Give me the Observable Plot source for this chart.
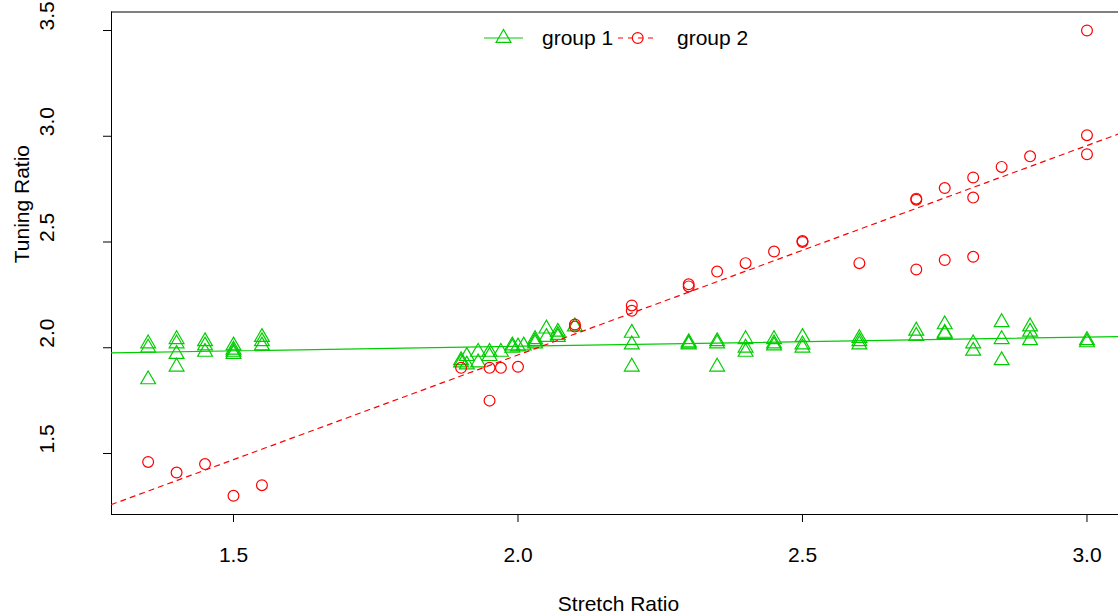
<!DOCTYPE html>
<html>
<head>
<meta charset="utf-8">
<script src="https://cdn.jsdelivr.net/npm/d3@7"></script>
<script src="https://cdn.jsdelivr.net/npm/@observablehq/plot@0.6"></script>
<style>
  html, body { margin: 0; padding: 0; background: #fff; overflow: hidden; }
  #wrap { position: relative; width: 1118px; height: 615px; font-family: "Liberation Sans", Arial, Helvetica, sans-serif; }
  #legend { position: absolute; left: 480px; top: 26px; }
</style>
</head>
<body>
<div id="wrap"><div id="chart"></div><div id="legend"></div></div>
<script>
// ---- data ----
const group1Stretch = [
  1.35, 1.35, 1.35,
  1.40, 1.40, 1.40, 1.40,
  1.45, 1.45, 1.45,
  1.50, 1.50, 1.50, 1.50,
  1.55, 1.55, 1.55,
  1.90, 1.90, 1.91, 1.91, 1.93, 1.93, 1.95, 1.95, 1.97, 1.99, 1.99, 2.00, 2.01,
  2.03, 2.03, 2.03, 2.05, 2.05, 2.07, 2.07, 2.07, 2.10,
  2.20, 2.20, 2.20,
  2.30, 2.30, 2.30,
  2.35, 2.35, 2.35,
  2.40, 2.40, 2.40,
  2.45, 2.45, 2.45,
  2.50, 2.50, 2.50,
  2.60, 2.60, 2.60,
  2.70, 2.70,
  2.75, 2.75, 2.75,
  2.80, 2.80,
  2.85, 2.85, 2.85,
  2.90, 2.90, 2.90,
  3.00, 3.00
];
const group1Tuning = [
  2.02, 2.00, 1.85,
  2.04, 2.02, 1.97, 1.91,
  2.03, 2.01, 1.98,
  2.01, 1.99, 1.98, 1.97,
  2.05, 2.03, 2.01,
  1.94, 1.93, 1.96, 1.92, 1.98, 1.93, 1.98, 1.96, 1.98, 2.00, 2.01, 2.005, 2.01,
  2.04, 2.03, 2.02, 2.09, 2.05, 2.075, 2.05, 2.06, 2.10,
  2.07, 2.015, 1.91,
  2.025, 2.02, 2.015,
  2.03, 2.02, 1.91,
  2.04, 2.00, 1.98,
  2.04, 2.02, 2.01,
  2.05, 2.015, 2.00,
  2.045, 2.03, 2.015,
  2.08, 2.055,
  2.11, 2.07, 2.065,
  2.02, 1.985,
  2.12, 2.04, 1.94,
  2.10, 2.075, 2.035,
  2.035, 2.025
];
const group2Stretch = [
  1.35, 1.40, 1.45, 1.50, 1.55,
  1.90, 1.95, 1.95, 1.97, 2.00,
  2.10, 2.10, 2.20, 2.20, 2.30, 2.30, 2.35, 2.40, 2.45, 2.50, 2.50,
  2.60, 2.70, 2.70, 2.70, 2.75, 2.75, 2.80, 2.80, 2.80, 2.85, 2.90,
  3.00, 3.00, 3.00
];
const group2Tuning = [
  1.46, 1.41, 1.45, 1.30, 1.35,
  1.905, 1.905, 1.75, 1.905, 1.91,
  2.11, 2.10, 2.20, 2.175, 2.30, 2.29, 2.36, 2.40, 2.455, 2.505, 2.50,
  2.40, 2.70, 2.705, 2.37, 2.755, 2.415, 2.805, 2.71, 2.43, 2.855, 2.905,
  3.50, 3.005, 2.915
];
const fit1 = {intercept: 1.920, slope: 0.0435};
const fit2 = {intercept: -0.014, slope: 0.990};
const xTicks = [1.5, 2.0, 2.5, 3.0];
const yTicks = [1.5, 2.0, 2.5, 3.0, 3.5];
const xTitle = "Stretch Ratio";
const yTitle = "Tuning Ratio";
const seriesNames = ["group 1", "group 2"];

// ---- styles ----
const GREEN = "#00CD00", RED = "#FF0000";
const FONT = "Liberation Sans, Arial, Helvetica, sans-serif";
const FS = 21;
const xDomain = [1.2856, 3.0554];
const yDomain = [1.2116, 3.5875];

const g1 = group1Stretch.map((x, i) => ({x, y: group1Tuning[i]}));
const g2 = group2Stretch.map((x, i) => ({x, y: group2Tuning[i]}));

const chart = Plot.plot({
  width: 1118,
  height: 615,
  marginLeft: 111,
  marginRight: 0,
  marginTop: 11.5,
  marginBottom: 101,
  x: {domain: xDomain, axis: null},
  y: {domain: yDomain, axis: null},
  style: {fontFamily: FONT, fontSize: FS + "px", background: "white", color: "black"},
  marks: [
    Plot.ruleY([yDomain[0], yDomain[1]], {stroke: "black", strokeWidth: 1}),
    Plot.ruleX([xDomain[0]], {stroke: "black", strokeWidth: 1}),
    Plot.axisX(xTicks, {tickSize: 8, fill: "none", label: null, stroke: "black"}),
    Plot.axisY(yTicks, {tickSize: 8, fill: "none", label: null, stroke: "black"}),
    Plot.text(xTicks, {x: d => d, text: d => d.toFixed(1), frameAnchor: "bottom", dy: 47, fontSize: FS, fill: "black"}),
    Plot.text(yTicks, {y: d => d, text: d => d.toFixed(1), frameAnchor: "left", dx: -64, rotate: -90, fontSize: FS, fill: "black"}),
    Plot.text([xTitle], {text: d => d, frameAnchor: "bottom", dx: 3.5, dy: 96, fontSize: FS, fill: "black"}),
    Plot.text([yTitle], {text: d => d, frameAnchor: "left", dx: -89, rotate: -90, fontSize: FS, fill: "black"}),
    Plot.dot(g1, {x: "x", y: "y", symbol: "triangle", r: 5.5, stroke: GREEN, strokeWidth: 1.2, fill: "none"}),
    Plot.dot(g2, {x: "x", y: "y", symbol: "circle", r: 5.4, stroke: RED, strokeWidth: 1.2, fill: "none"}),
    Plot.line(xDomain, {x: d => d, y: d => fit1.intercept + fit1.slope * d, stroke: GREEN, strokeWidth: 1.2}),
    Plot.line(xDomain, {x: d => d, y: d => fit2.intercept + fit2.slope * d, stroke: RED, strokeWidth: 1.2, strokeDasharray: "5,5"})
  ]
});
document.getElementById("chart").appendChild(chart);

// ---- legend (overlay, top centre of the panel) ----
const tri = d3.symbol(d3.symbolTriangle, Math.PI * 5.5 * 5.5)();
const leg = d3.select("#legend").append("svg").attr("width", 300).attr("height", 26)
  .style("font-family", FONT).style("font-size", FS + "px");
leg.append("line").attr("x1", 4).attr("x2", 43).attr("y1", 12).attr("y2", 12).attr("stroke", GREEN).attr("stroke-width", 1.2);
leg.append("path").attr("d", tri).attr("transform", "translate(23.5,12)").attr("fill", "none").attr("stroke", GREEN).attr("stroke-width", 1.2);
leg.append("text").attr("x", 62).attr("y", 12).attr("dy", "0.35em").text(seriesNames[0]);
leg.append("line").attr("x1", 138).attr("x2", 177).attr("y1", 12).attr("y2", 12).attr("stroke", RED).attr("stroke-width", 1.2).attr("stroke-dasharray", "5,5");
leg.append("circle").attr("cx", 157.7).attr("cy", 12).attr("r", 5.4).attr("fill", "none").attr("stroke", RED).attr("stroke-width", 1.2);
leg.append("text").attr("x", 197).attr("y", 12).attr("dy", "0.35em").text(seriesNames[1]);
</script>
</body>
</html>
